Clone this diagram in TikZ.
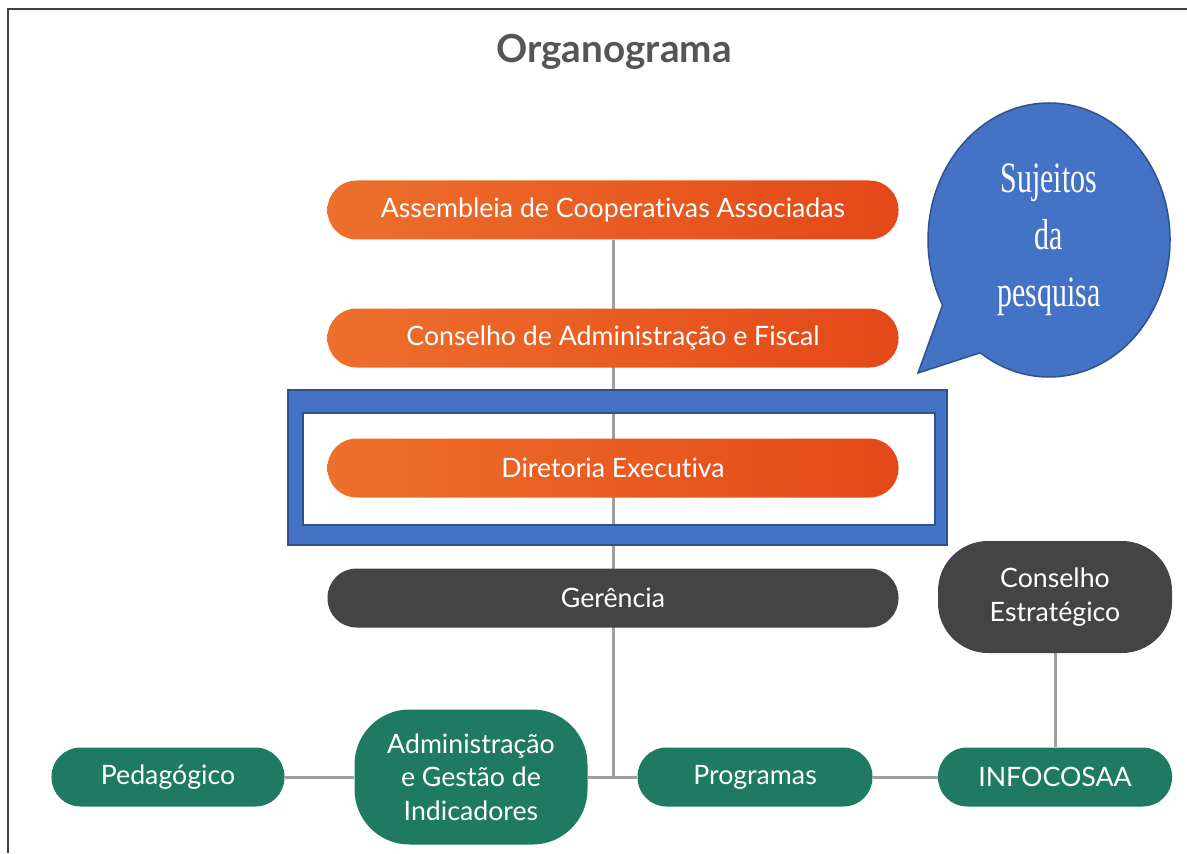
\documentclass[tikz,border=0pt]{standalone}
\usepackage{fontspec}
\setmainfont{Lato}[Ligatures=NoCommon]
\newfontfamily\bubblefont{Liberation Serif}
\usepackage{tikz}
\usetikzlibrary{shapes, shapes.callouts, backgrounds, positioning}
\usepackage{xcolor}

\definecolor{orgorange}{RGB}{237,112,44}
\definecolor{orgred}{RGB}{228,72,24}
\definecolor{orggray}{RGB}{68,68,68}
\definecolor{orggreen}{RGB}{31,122,98}
\definecolor{orgline}{RGB}{160,160,160}
\definecolor{orgtitle}{RGB}{85,85,85}
\definecolor{markblue}{RGB}{68,114,196}
\definecolor{markedge}{RGB}{47,82,143}

\begin{document}
\begin{tikzpicture}[x=0.2mm, y=-0.2mm,
  pill/.style={rounded corners=5.8mm, minimum height=11.8mm, inner sep=0pt,
    text=white, align=center, font=\fontsize{15.2}{19}\selectfont},
  toplevel/.style={pill, minimum width=114.2mm, left color=orgorange, right color=orgred},
  darklevel/.style={pill, minimum width=114.2mm, fill=orggray},
  unit/.style={pill, minimum width=46.6mm, fill=orggreen},
  link/.style={draw=orgline, line width=0.6mm}]
  \useasboundingbox (0,0) rectangle (1187,853);

  % frame
  \draw[line width=0.4mm, black!75] (8,853) -- (8,9) -- (1187,9);

  % title
  \node[font=\bfseries\fontsize{22}{26}\selectfont, text=orgtitle] (title) at (614,52) {Organograma};

  % main column
  \node[toplevel] (assembleia) at (613,210) {Assembleia de Cooperativas Associadas};
  \node[toplevel] (conselho) at (613,338) {Conselho de Administração e Fiscal};
  \node[toplevel] (diretoria) at (613,468) {Diretoria Executiva};
  \node[darklevel] (gerencia) at (613,598) {Gerência};
  \node[darklevel, minimum width=46.8mm, minimum height=22.4mm, rounded corners=10mm]
    (estrategico) at (1055,597) {Conselho\\Estratégico};

  % bottom row
  \node[unit] (pedagogico) at (168,777) {Pedagógico};
  \node[unit, minimum height=27mm, rounded corners=11mm] (admin) at (471,777)
    {Administração\\e Gestão de\\Indicadores};
  \node[unit, minimum width=47mm] (programas) at (755,777) {Programas};
  \node[unit, minimum width=46.8mm] (infocosaa) at (1055,777) {INFOCOSAA};
  \coordinate (hub) at (613,777);

  % connectors
  \begin{scope}[on background layer]
    \draw[link] (assembleia) -- (hub);
    \draw[link] (pedagogico) -- (admin) -- (programas) -- (infocosaa);
    \draw[link] (estrategico) -- (infocosaa);
  \end{scope}

  % highlight box
  \fill[markblue, draw=markedge, line width=0.3mm, even odd rule]
    (288,390) rectangle (947,545) (303,413) rectangle (935,525);

  % speech bubble
  \node[ellipse callout, fill=markblue, draw=markedge, line width=0.3mm,
    minimum width=48.4mm, minimum height=54.8mm, inner sep=0pt,
    callout absolute pointer={(918,373)}, callout pointer arc=27,
    text=white, align=center, font=\bubblefont\fontsize{17}{32.4}\selectfont]
    (bubble) at (1049,240)
    {\scalebox{1}[1.45]{Sujeitos}\\\scalebox{1}[1.45]{da}\\\scalebox{1}[1.45]{pesquisa}};
\end{tikzpicture}
\end{document}
